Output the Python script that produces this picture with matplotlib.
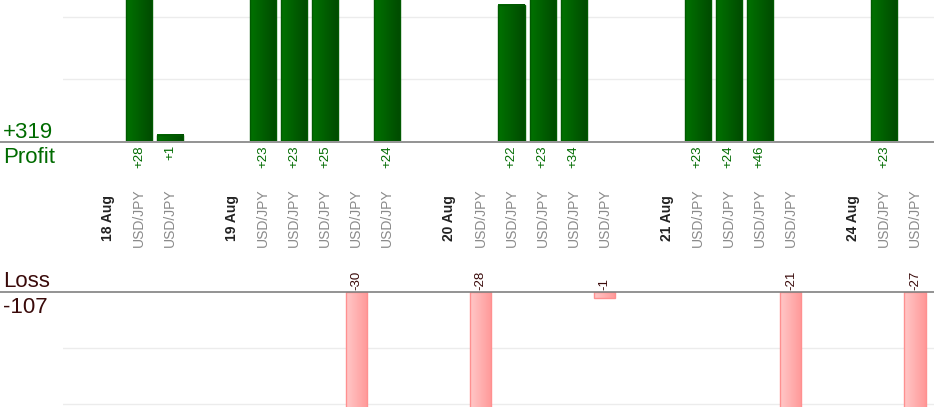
import numpy as np
import matplotlib
matplotlib.use('Agg')
import matplotlib.pyplot as plt
from matplotlib.colors import LinearSegmentedColormap
from matplotlib.lines import Line2D
from matplotlib.transforms import blended_transform_factory

plt.rcParams['font.family'] = ['Liberation Sans', 'DejaVu Sans']

# one slot per column: date headers, trades, and empty spacer slots
slot_labels = ['18 Aug', 'USD/JPY', 'USD/JPY', '',
               '19 Aug', 'USD/JPY', 'USD/JPY', 'USD/JPY', 'USD/JPY', 'USD/JPY', '',
               '20 Aug', 'USD/JPY', 'USD/JPY', 'USD/JPY', 'USD/JPY', 'USD/JPY', '',
               '21 Aug', 'USD/JPY', 'USD/JPY', 'USD/JPY', 'USD/JPY', '',
               '24 Aug', 'USD/JPY', 'USD/JPY']
is_date = [l.endswith('Aug') for l in slot_labels]
pnl = [None, 28, 1, None,
       None, 23, 23, 25, -30, 24, None,
       None, -28, 22, 23, 34, -1, None,
       None, 23, 24, 46, -21, None,
       None, 23, -27]
total_profit = '+319'
total_loss = '-107'

W, H = 934, 420
fig = plt.figure(figsize=(W / 100, H / 100), dpi=100)

slot_px = 31.04
x0_px = 108  # centre of slot 0
left_px = 63
xlim = (-(x0_px - left_px) / slot_px, (W - x0_px) / slot_px)

ax_p = fig.add_axes([left_px / W, (H - 141) / H, (W - left_px) / W, 141 / H])
ax_l = fig.add_axes([left_px / W, (H - 407) / H, (W - left_px) / W, 115 / H])

for ax, ticks in ((ax_p, [10, 20]), (ax_l, [-10, -20])):
    for s in ax.spines.values():
        s.set_visible(False)
    ax.set_xticks([])
    ax.set_yticks(ticks)
    ax.tick_params(left=False, labelleft=False)
    ax.grid(axis='y', color='#ececec', linewidth=1)
    ax.set_axisbelow(True)
    ax.patch.set_alpha(0)

green_cm = LinearSegmentedColormap.from_list('g', ['#007200', '#004a00'])
pink_cm = LinearSegmentedColormap.from_list('p', ['#ffc8c8', '#ff9898'])
grad = np.linspace(0, 1, 64).reshape(1, -1)

xs = np.arange(len(slot_labels))
prof_x = [x for x, v in zip(xs, pnl) if v is not None and v > 0]
prof_v = [v for v in pnl if v is not None and v > 0]
loss_x = [x for x, v in zip(xs, pnl) if v is not None and v < 0]
loss_v = [v for v in pnl if v is not None and v < 0]

def gradient_bars(ax, x, v, width, cmap, edge):
    bars = ax.bar(x, v, width=width, facecolor='none', edgecolor=edge,
                  linewidth=1, zorder=3)
    for b in bars:
        bx, by = b.get_x(), b.get_y()
        bw, bh = b.get_width(), b.get_height()
        im = ax.imshow(grad, cmap=cmap, aspect='auto', zorder=2,
                       extent=(bx, bx + bw, by, by + bh))
        im.set_clip_path(b)
        im.set_clip_box(ax.bbox)
    return bars

gradient_bars(ax_p, prof_x, prof_v, 0.84, green_cm, '#005a00')
gradient_bars(ax_l, loss_x, loss_v, 0.68, pink_cm, '#ff9090')
for ax in (ax_p, ax_l):
    ax.set_xlim(*xlim)
ax_p.set_ylim(0, 22.8)
ax_l.set_ylim(-20.5, 0)

for x, v in zip(prof_x, prof_v):
    ax_p.annotate(f'+{v}', xy=(x, 0), xytext=(0, -3), textcoords='offset points',
                  ha='center', va='top', rotation=90, fontsize=9.5,
                  color='#006b00', annotation_clip=False)
for x, v in zip(loss_x, loss_v):
    ax_l.annotate(f'{v}', xy=(x, 0), xytext=(0, 1.5), textcoords='offset points',
                  ha='center', va='bottom', rotation=90, fontsize=9.5,
                  color='#3a0a0a', annotation_clip=False)

# slot labels, rotated, between the two panels
tr = blended_transform_factory(ax_p.transData, fig.transFigure)
for x, lab, d in zip(xs, slot_labels, is_date):
    if not lab:
        continue
    ax_p.text(x, (H - 218) / H, lab, transform=tr, rotation=90, ha='center',
              va='center', fontsize=10, clip_on=False,
              color='#222222' if d else '#8a8a8a',
              fontweight='bold' if d else 'normal')

# full-width baselines
for ypx in (141.5, 292):
    fig.add_artist(Line2D([0, 1], [(H - ypx) / H] * 2, transform=fig.transFigure,
                          color='#808080', linewidth=1.2))

fig.text(3 / W, (H - 138) / H, total_profit, fontsize=16, color='#006b00', va='baseline')
fig.text(3 / W, (H - 163) / H, 'Profit', fontsize=16, color='#006b00', va='baseline')
fig.text(3 / W, (H - 287) / H, 'Loss', fontsize=16, color='#3a0a0a', va='baseline')
fig.text(3 / W, (H - 313) / H, total_loss, fontsize=16, color='#3a0a0a', va='baseline')

fig.savefig('out.png', dpi=100)
